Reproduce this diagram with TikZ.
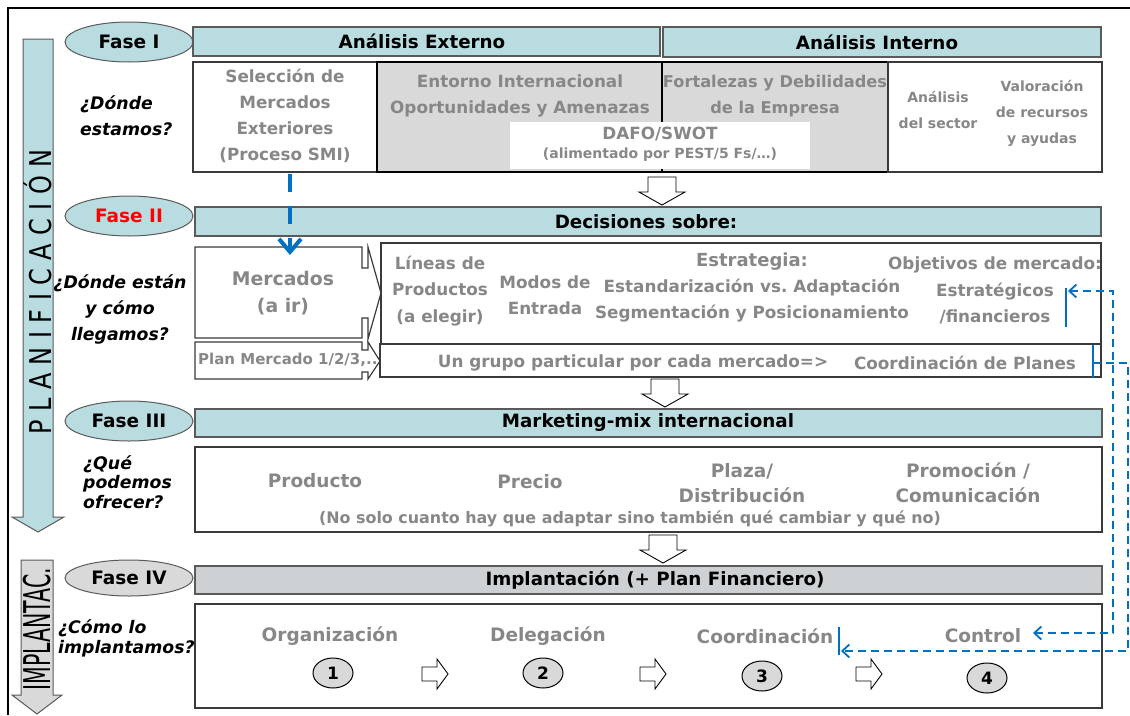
\documentclass[tikz,border=0pt]{standalone}
\usepackage{fontspec}
\setmainfont{DejaVu Sans}
\usetikzlibrary{arrows.meta,shapes.geometric}

\definecolor{aqua}{HTML}{B8DCE0}
\definecolor{barline}{HTML}{5A5A5A}
\definecolor{boxline}{HTML}{3A3A3A}
\definecolor{shade}{HTML}{D9D9D9}
\definecolor{bargray}{HTML}{CDD1D4}
\definecolor{numgray}{HTML}{D9D9D9}
\definecolor{txtgray}{HTML}{878787}
\definecolor{linkblue}{HTML}{0070C0}

\tikzset{
  frame/.style={draw=black, line width=1.5pt},
  bigarrow/.style={draw=barline, line width=1pt},
  bar/.style={draw=barline, fill=aqua, line width=1.3pt},
  barg/.style={draw=barline, fill=bargray, line width=1.3pt},
  phase/.style={ellipse, draw=barline, fill=aqua, line width=1pt,
    minimum width=128pt, minimum height=40pt, inner sep=0pt,
    font=\bfseries\fontsize{18.5}{22}\selectfont},
  headtxt/.style={font=\bfseries\fontsize{18.3}{22}\selectfont, inner sep=0pt},
  box/.style={draw=boxline, fill=white, line width=1.2pt},
  graybox/.style={draw=black, fill=shade, line width=2pt},
  gt/.style={text=txtgray, font=\bfseries\fontsize{16.8}{26}\selectfont,
    align=center, inner sep=0pt},
  gtbig/.style={gt, font=\bfseries\fontsize{18.5}{25}\selectfont},
  gtsmall/.style={gt, font=\bfseries\fontsize{14}{26}\selectfont},
  ask/.style={font=\bfseries\itshape\fontsize{17.3}{26}\selectfont, inner sep=0pt},
  hollow/.style={draw=black, fill=white, line width=0.9pt},
  biglink/.style={draw=linkblue, line width=4pt, dash pattern=on 18pt off 14pt},
  link/.style={draw=linkblue, line width=1.8pt, dash pattern=on 8pt off 5pt},
  tick/.style={draw=linkblue, line width=1.8pt},
  num/.style={ellipse, draw=black, fill=numgray, line width=1pt,
    minimum width=40pt, minimum height=30pt, inner sep=0pt,
    font=\bfseries\fontsize{17}{20}\selectfont},
  downblock/.pic={\draw[hollow] (-14,0) -- (14,0) -- (14,15) -- (23,15) -- (0,28)
      -- (-23,15) -- (-14,15) -- cycle;},
  rightblock/.pic={\draw[hollow] (0,-7) -- (15,-7) -- (15,-15) -- (26,0) -- (15,15)
      -- (15,7) -- (0,7) -- cycle;},
}

\begin{document}
\frenchspacing
\begin{tikzpicture}[x=1pt,y=-1pt]
\useasboundingbox (0,0) rectangle (1130,715);

% outer frame
\draw[frame] (8,715) -- (8,8) -- (1130,8);

% side arrows: planning and implementation
\draw[bigarrow, fill=aqua] (23,39) -- (53,39) -- (53,517) -- (64,517) -- (38,532)
  -- (12,517) -- (23,517) -- cycle;
\node[rotate=90, inner sep=0pt] (plan) at (38,292)
  {\scalebox{1}[1.25]{\fontsize{24}{28}\selectfont\makebox[285pt][s]{P\hfill L\hfill A\hfill N\hfill I\hfill F\hfill I\hfill C\hfill A\hfill C\hfill I\hfill Ó\hfill N}}};
\draw[bigarrow, fill=shade] (21,560) -- (53,560) -- (53,695) -- (62,695) -- (37,714)
  -- (12,695) -- (21,695) -- cycle;
\node[rotate=90, inner sep=0pt] (impl) at (37,629)
  {\scalebox{1}[1.8]{\fontsize{20.5}{24}\selectfont IMPLANTAC.}};

% phase labels
\node[phase] (f1) at (129,42) {Fase I};
\node[phase, text=red] (f2) at (129,216) {Fase II};
\node[phase] (f3) at (129,421) {Fase III};
\node[phase, fill=numgray, minimum height=36pt] (f4) at (129,578) {Fase IV};

% phase header bars
\draw[bar] (193,27) rectangle (660,56);
\node[headtxt] (hext) at (422,41.5) {Análisis Externo};
\draw[bar] (663,27) rectangle (1101,57);
\node[headtxt] (hint) at (877,42) {Análisis Interno};
\draw[bar] (195,207) rectangle (1101,236);
\node[headtxt] (hdec) at (646,221.5) {Decisiones sobre:};
\draw[bar] (195,409) rectangle (1102,437);
\node[headtxt] (hmix) at (648,423) {Marketing-mix internacional};
\draw[barg] (195,566) rectangle (1102,594);
\node[headtxt] (himp) at (655,580) {Implantación (+ Plan Financiero)};

% phase I content
\draw[box] (193,62) rectangle (377,172);
\draw[graybox] (377,62) rectangle (888,172);
\draw[black, line width=1.5pt] (662,62) -- (662,172);
\fill[white] (510,122) rectangle (810,169);
\draw[box] (888,62) rectangle (1102,172);

\node[ask, align=left, anchor=west] (q1) at (80,116) {¿Dónde\\estamos?};
\node[gt] (sel) at (285,116) {Selección de\\Mercados\\Exteriores\\(Proceso SMI)};
\node[gt] (ent) at (520,96) {Entorno Internacional\\Oportunidades y Amenazas};
\node[gt, font=\bfseries\fontsize{16.2}{26}\selectfont] (fort) at (775,96) {Fortalezas y Debilidades\\de la Empresa};
\node[gt] (dafo) at (660,134) {DAFO/SWOT};
\node[gt, font=\bfseries\fontsize{14}{18}\selectfont] (pest) at (660,155) {(alimentado por PEST/5 Fs/…)};
\node[gtsmall] (sect) at (938,110) {Análisis\\del sector};
\node[gtsmall] (valor) at (1042,113) {Valoración\\de recursos\\y ayudas};

\pic at (662,177) {downblock};

% phase II content
\draw[box] (381,243) rectangle (1101,344);
\draw[box] (380,344) rectangle (1101,377);
\draw[box] (195,247) -- (362,247) -- (362,268) -- (368,268) -- (368,247) -- (381,293)
  -- (368,339) -- (368,318) -- (362,318) -- (362,338) -- (195,338) -- cycle;
\draw[box] (195,342) -- (362,342) -- (362,350) -- (368,350) -- (368,342) -- (380,361)
  -- (368,379) -- (368,372) -- (362,372) -- (362,379) -- (195,379) -- cycle;

\node[ask, align=center] (q2) at (120,309) {¿Dónde están\\y cómo\\llegamos?};
\node[gtbig, font=\bfseries\fontsize{18.8}{27}\selectfont] (merc) at (283,293) {Mercados\\(a ir)};
\node[gt, font=\bfseries\fontsize{15}{18}\selectfont, anchor=west] (planm) at (198,360) {Plan Mercado 1/2/3,..};
\node[gt, font=\bfseries\fontsize{16.8}{26.5}\selectfont] (lin) at (440,291) {Líneas de\\Productos\\(a elegir)};
\node[gt] (modos) at (545,295) {Modos de\\Entrada};
\node[gt, font=\bfseries\fontsize{18}{22}\selectfont] (estr) at (752,262) {Estrategia:};
\node[gt] (estd) at (752,288) {Estandarización vs. Adaptación};
\node[gt] (segm) at (752,314) {Segmentación y Posicionamiento};
\node[gt] (objt) at (995,265) {Objetivos de mercado:};
\node[gt] (objs) at (995,304) {Estratégicos\\/financieros};
\node[gt] (grupo) at (633,363) {Un grupo particular por cada mercado=>};
\node[gt] (coordp) at (965,363) {Coordinación de Planes};

\pic at (665,379) {downblock};

% phase III content
\draw[box] (195,447) rectangle (1102,532);
\node[ask, align=left, anchor=west, font=\bfseries\itshape\fontsize{17.3}{19.5}\selectfont] (q3) at (83,482) {¿Qué\\podemos\\ofrecer?};
\node[gtbig] (prod) at (315,481) {Producto};
\node[gtbig] (prec) at (530,482) {Precio};
\node[gtbig] (plaza) at (742,483) {Plaza/\\Distribución};
\node[gtbig] (promo) at (968,483) {Promoción /\\Comunicación};
\node[gt, font=\bfseries\fontsize{15.9}{18}\selectfont] (nosolo) at (630,519) {(No solo cuanto hay que adaptar sino también qué cambiar y qué no)};

\pic at (663,535) {downblock};

% phase IV content
\draw[box] (195,604) rectangle (1102,708);
\node[ask, align=left, anchor=west, font=\bfseries\itshape\fontsize{17.3}{20}\selectfont] (q4) at (58,638) {¿Cómo lo\\implantamos?};
\node[gtbig] (org) at (330,636) {Organización};
\node[gtbig] (deleg) at (548,636) {Delegación};
\node[gtbig] (coord) at (765,636) {Coordinación};
\node[gtbig] (ctrl) at (983,636) {Control};
\node[num] (n1) at (333,673) {1};
\node[num] (n2) at (543,673) {2};
\node[num] (n3) at (762,676) {3};
\node[num] (n4) at (987,678) {4};
\pic at (422,674) {rightblock};
\pic at (640,674) {rightblock};
\pic at (856,674) {rightblock};

% market selection feeds the markets box
\coordinate (selout) at (290,174);
\coordinate (mercin) at (290,255);
\draw[biglink, -{Straight Barb[length=13pt,width=22pt]}] (selout) -- (mercin);

% objectives <-> control
\draw[tick] (1066,288) -- (1066,327);
\coordinate (objin) at (1068,291);
\coordinate (ctrlin) at (1033,633);
\draw[link, {Straight Barb[length=7pt,width=13pt]}-{Straight Barb[length=7pt,width=13pt]}]
  (objin) -- (1113,291) |- (ctrlin);

% plan coordination -> coordination
\draw[tick] (1093,345) -- (1093,378);
\draw[tick] (839,627) -- (839,655);
\coordinate (cpout) at (1093,363);
\coordinate (coordin) at (841,651);
\draw[link, -{Straight Barb[length=7pt,width=13pt]}] (cpout) -- (1128,363) |- (coordin);

\end{tikzpicture}
\end{document}
